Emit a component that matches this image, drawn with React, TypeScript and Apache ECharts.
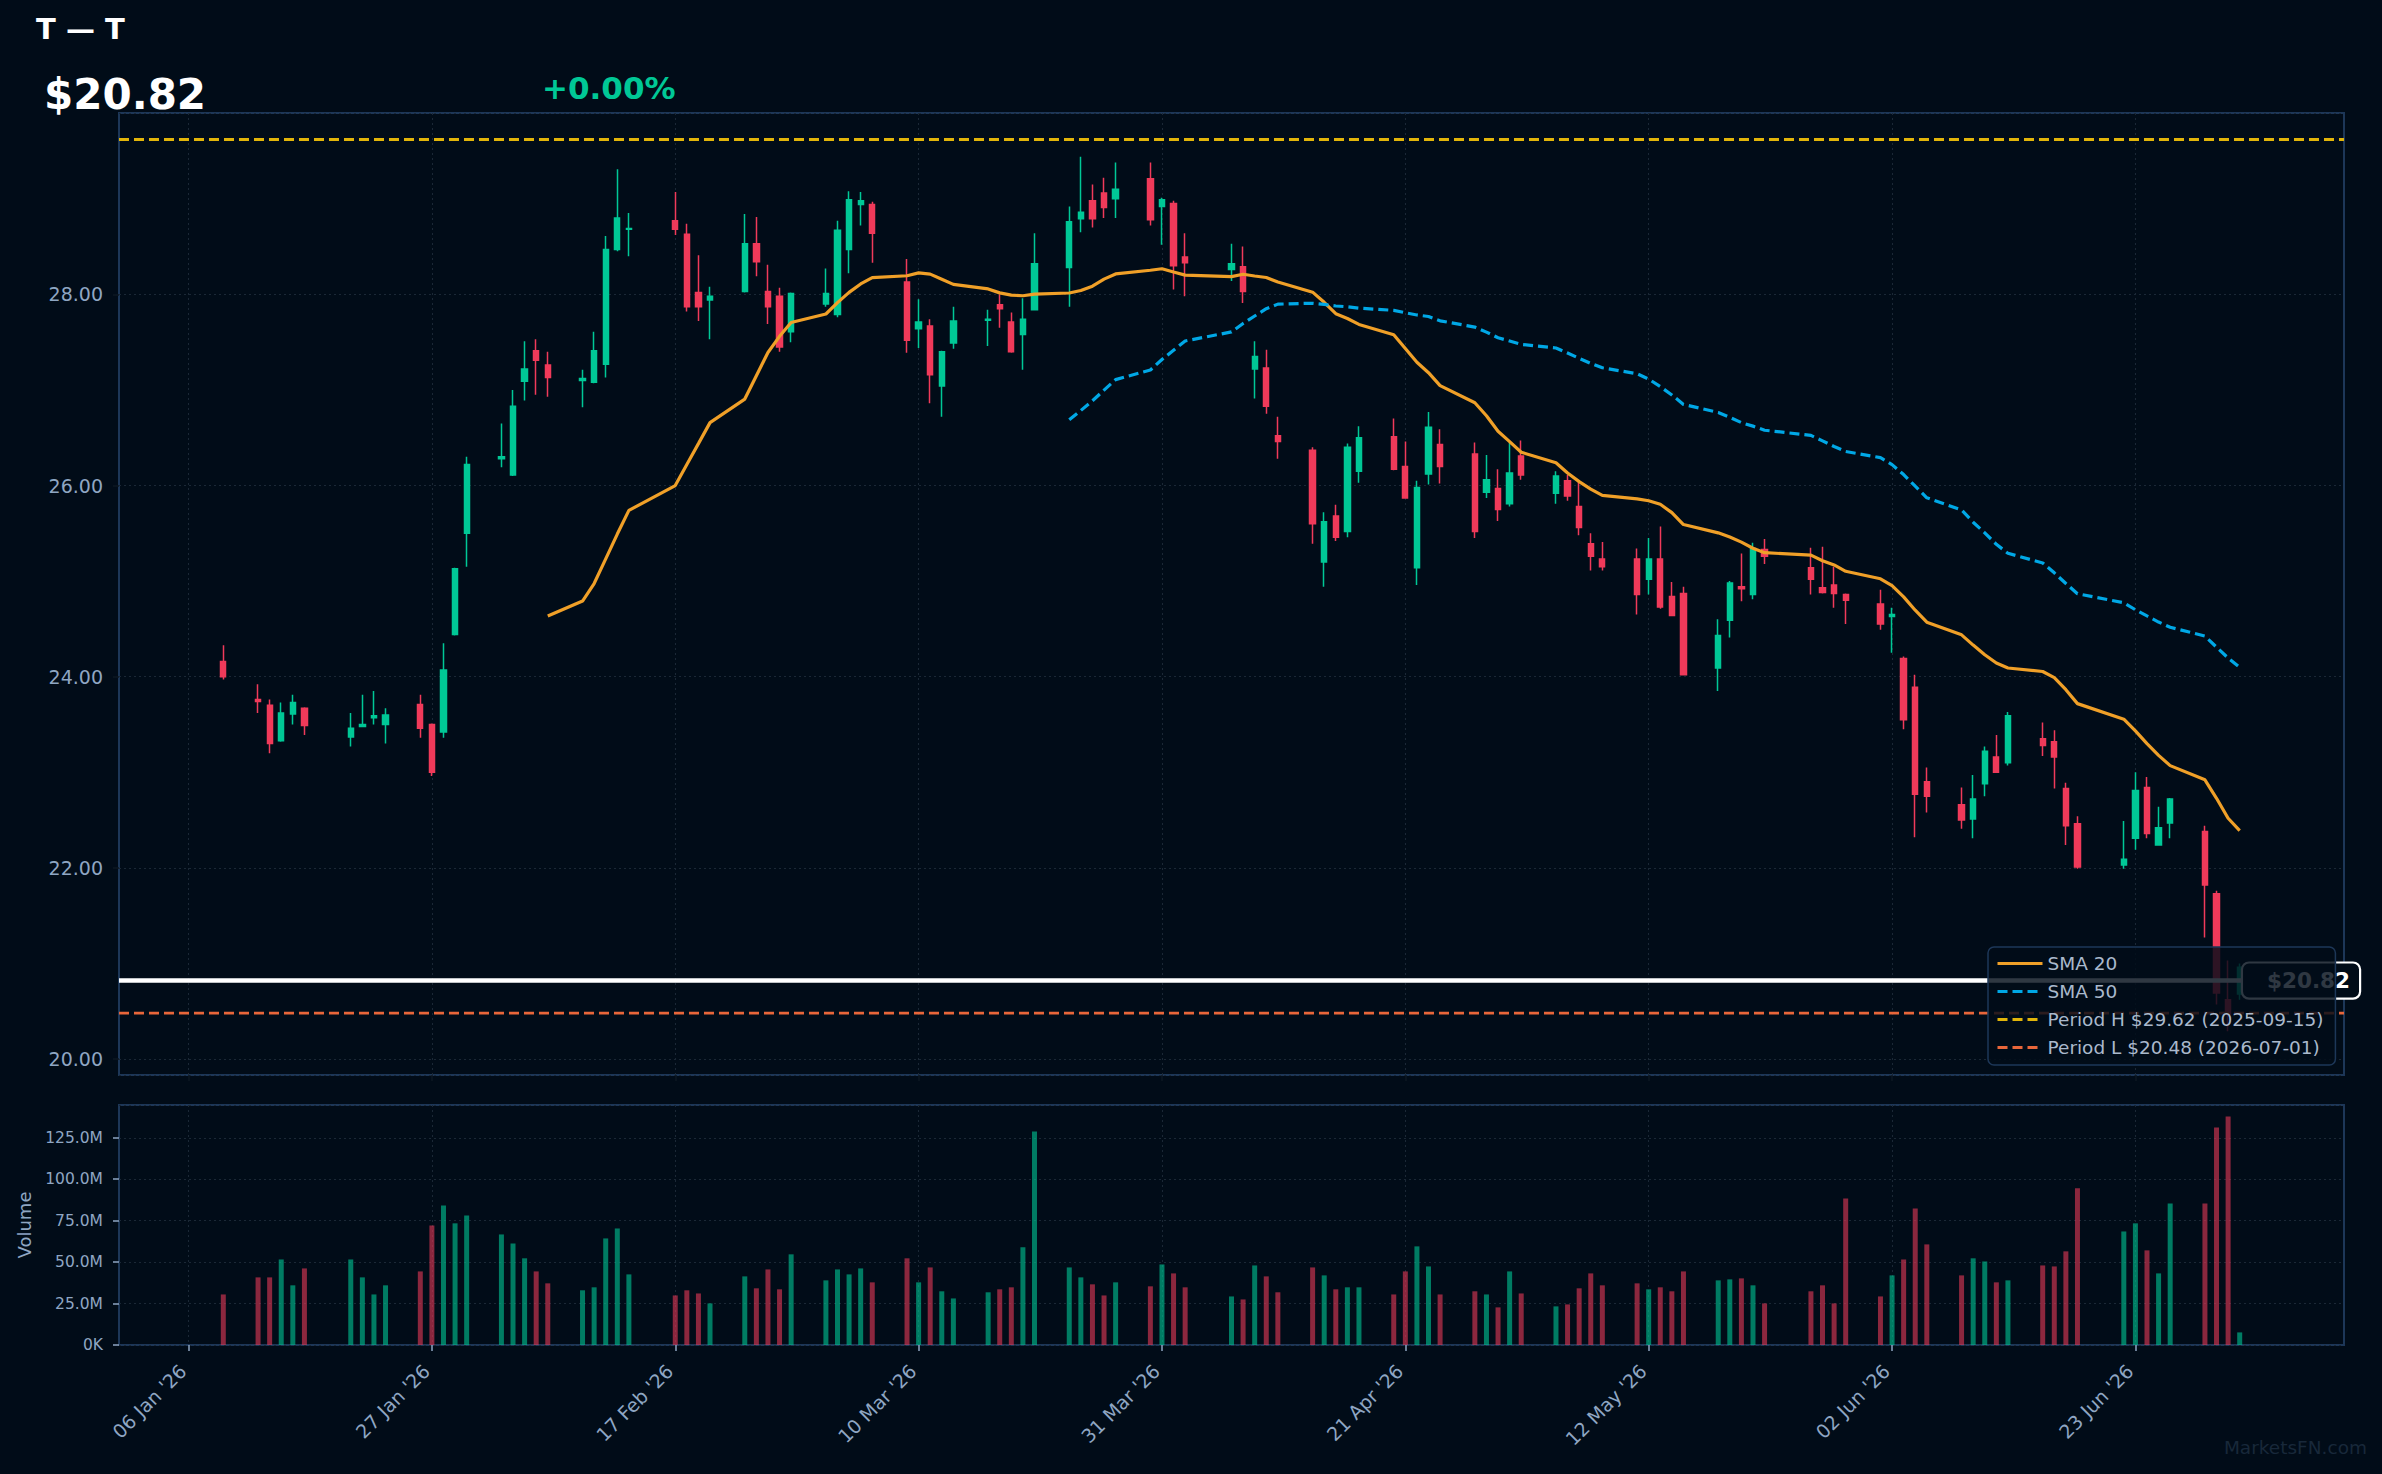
import React, { useEffect, useRef } from 'react';
import * as echarts from 'echarts';

// ---------- header texts ----------
const TITLE_TEXT = 'T — T';
const HEADER_PRICE = '$20.82';
const HEADER_CHANGE = '+0.00%';
const WATERMARK = 'MarketsFN.com';

// ---------- daily data ----------
const tradeDates = [
  '2026-01-09', '2026-01-12', '2026-01-13', '2026-01-14', '2026-01-15', '2026-01-16',
  '2026-01-20', '2026-01-21', '2026-01-22', '2026-01-23',
  '2026-01-26', '2026-01-27', '2026-01-28', '2026-01-29', '2026-01-30',
  '2026-02-02', '2026-02-03', '2026-02-04', '2026-02-05', '2026-02-06',
  '2026-02-09', '2026-02-10', '2026-02-11', '2026-02-12', '2026-02-13',
  '2026-02-17', '2026-02-18', '2026-02-19', '2026-02-20',
  '2026-02-23', '2026-02-24', '2026-02-25', '2026-02-26', '2026-02-27',
  '2026-03-02', '2026-03-03', '2026-03-04', '2026-03-05', '2026-03-06',
  '2026-03-09', '2026-03-10', '2026-03-11', '2026-03-12', '2026-03-13',
  '2026-03-16', '2026-03-17', '2026-03-18', '2026-03-19', '2026-03-20',
  '2026-03-23', '2026-03-24', '2026-03-25', '2026-03-26', '2026-03-27',
  '2026-03-30', '2026-03-31', '2026-04-01', '2026-04-02',
  '2026-04-06', '2026-04-07', '2026-04-08', '2026-04-09', '2026-04-10',
  '2026-04-13', '2026-04-14', '2026-04-15', '2026-04-16', '2026-04-17',
  '2026-04-20', '2026-04-21', '2026-04-22', '2026-04-23', '2026-04-24',
  '2026-04-27', '2026-04-28', '2026-04-29', '2026-04-30', '2026-05-01',
  '2026-05-04', '2026-05-05', '2026-05-06', '2026-05-07', '2026-05-08',
  '2026-05-11', '2026-05-12', '2026-05-13', '2026-05-14', '2026-05-15',
  '2026-05-18', '2026-05-19', '2026-05-20', '2026-05-21', '2026-05-22',
  '2026-05-26', '2026-05-27', '2026-05-28', '2026-05-29',
  '2026-06-01', '2026-06-02', '2026-06-03', '2026-06-04', '2026-06-05',
  '2026-06-08', '2026-06-09', '2026-06-10', '2026-06-11', '2026-06-12',
  '2026-06-15', '2026-06-16', '2026-06-17', '2026-06-18',
  '2026-06-22', '2026-06-23', '2026-06-24', '2026-06-25', '2026-06-26',
  '2026-06-29', '2026-06-30', '2026-07-01', '2026-07-02',
];

const opens = [
  24.16, 23.76, 23.70, 23.33, 23.61, 23.67,
  23.37, 23.48, 23.57, 23.50,
  23.71, 23.50, 23.42, 24.44, 25.50,
  26.28, 26.11, 27.09, 27.41, 27.26,
  27.10, 27.08, 27.27, 28.47, 28.68,
  28.77, 28.63, 28.02, 27.94,
  28.03, 28.53, 28.03, 27.98, 27.61,
  27.90, 27.79, 28.47, 28.94, 28.94,
  28.13, 27.64, 27.67, 27.04, 27.49,
  27.73, 27.89, 27.71, 27.58, 27.84,
  28.28, 28.79, 28.98, 29.06, 29.00,
  29.21, 28.92, 28.95, 28.39,
  28.26, 28.29, 27.22, 27.23, 26.52,
  26.37, 25.20, 25.68, 25.52, 26.15,
  26.51, 26.20, 25.14, 26.12, 26.43,
  26.33, 25.93, 25.97, 25.81, 26.31,
  25.92, 26.05, 25.78, 25.39, 25.23,
  25.23, 25.02, 25.23, 24.84, 24.87,
  24.09, 24.59, 24.94, 24.86, 25.33,
  25.14, 24.93, 24.96, 24.86,
  24.76, 24.63, 24.19, 23.89, 22.90,
  22.66, 22.51, 22.88, 23.16, 23.10,
  23.35, 23.32, 22.83, 22.46,
  22.03, 22.31, 22.84, 22.24, 22.47,
  22.38, 21.73, 20.62, 20.68,
];

const highs = [
  24.33, 23.92, 23.76, 23.73, 23.81, 23.68,
  23.62, 23.81, 23.85, 23.67,
  23.81, 23.51, 24.35, 25.14, 26.30,
  26.65, 27.00, 27.51, 27.53, 27.40,
  27.21, 27.61, 28.61, 29.31, 28.85,
  29.07, 28.74, 28.41, 28.08,
  28.84, 28.81, 28.31, 28.07, 28.02,
  28.27, 28.77, 29.08, 29.07, 28.97,
  28.37, 27.95, 27.74, 27.41, 27.87,
  27.84, 28.00, 27.81, 27.96, 28.64,
  28.92, 29.44, 29.15, 29.22, 29.38,
  29.38, 29.01, 28.98, 28.64,
  28.53, 28.50, 27.51, 27.42, 26.72,
  26.40, 25.72, 25.80, 26.44, 26.62,
  26.70, 26.46, 26.05, 26.77, 26.59,
  26.45, 26.32, 26.17, 26.45, 26.47,
  26.15, 26.11, 26.04, 25.50, 25.41,
  25.34, 25.45, 25.57, 24.99, 24.94,
  24.60, 25.00, 25.29, 25.40, 25.44,
  25.35, 25.36, 25.15, 24.87,
  24.91, 24.72, 24.21, 24.02, 23.05,
  22.84, 22.97, 23.27, 23.39, 23.63,
  23.52, 23.44, 22.89, 22.54,
  22.49, 23.00, 22.95, 22.64, 22.73,
  22.44, 21.76, 21.03, 21.00,
];

const lows = [
  23.97, 23.62, 23.20, 23.32, 23.50, 23.39,
  23.27, 23.47, 23.50, 23.30,
  23.36, 22.96, 23.36, 24.43, 25.15,
  26.19, 26.10, 26.89, 26.95, 26.93,
  26.82, 27.07, 27.13, 28.45, 28.40,
  28.62, 27.82, 27.72, 27.53,
  28.02, 28.19, 27.69, 27.40, 27.50,
  27.87, 27.76, 28.22, 28.72, 28.33,
  27.39, 27.44, 26.86, 26.72, 27.43,
  27.46, 27.65, 27.39, 27.21, 27.84,
  27.87, 28.65, 28.70, 28.80, 28.80,
  28.72, 28.52, 28.05, 27.98,
  28.14, 27.91, 26.91, 26.75, 26.28,
  25.39, 24.94, 25.42, 25.46, 26.03,
  26.16, 25.87, 24.96, 26.01, 26.02,
  25.45, 25.87, 25.63, 25.78, 26.06,
  25.81, 25.84, 25.48, 25.11, 25.11,
  24.65, 24.86, 24.71, 24.64, 24.02,
  23.85, 24.41, 24.79, 24.81, 25.18,
  24.86, 24.87, 24.72, 24.55,
  24.49, 24.25, 23.45, 22.32, 22.58,
  22.41, 22.31, 22.75, 23.00, 23.07,
  23.17, 22.83, 22.24, 21.99,
  21.99, 22.19, 22.31, 22.23, 22.31,
  21.27, 20.57, 20.29, 20.62,
];

const closes = [
  24.00, 23.74, 23.30, 23.62, 23.73, 23.49,
  23.46, 23.50, 23.59, 23.60,
  23.46, 23.00, 24.07, 25.13, 26.22,
  26.30, 26.83, 27.22, 27.31, 27.13,
  27.12, 27.41, 28.47, 28.80, 28.69,
  28.68, 27.87, 27.87, 27.98,
  28.53, 28.34, 27.87, 27.45, 28.01,
  28.01, 28.67, 28.99, 28.98, 28.64,
  27.52, 27.71, 27.16, 27.40, 27.72,
  27.74, 27.85, 27.40, 27.74, 28.32,
  28.76, 28.86, 28.79, 28.91, 29.10,
  28.78, 28.99, 28.30, 28.33,
  28.32, 28.03, 27.35, 26.83, 26.46,
  25.60, 25.62, 25.46, 26.40, 26.50,
  26.17, 25.87, 25.98, 26.61, 26.20,
  25.52, 26.06, 25.75, 26.13, 26.11,
  26.10, 25.89, 25.56, 25.26, 25.15,
  24.86, 25.23, 24.73, 24.64, 24.02,
  24.43, 24.98, 24.92, 25.34, 25.26,
  25.02, 24.88, 24.87, 24.80,
  24.55, 24.65, 23.55, 22.77, 22.75,
  22.50, 22.72, 23.22, 23.00, 23.59,
  23.28, 23.16, 22.44, 22.01,
  22.09, 22.81, 22.36, 22.42, 22.72,
  21.82, 20.69, 20.47, 20.96,
];

// volume in millions of shares
const volumesM = [
  30.5, 40.8, 40.8, 51.6, 36.0, 46.2,
  51.6, 40.8, 30.5, 36.0,
  44.4, 72.1, 84.2, 73.4, 78.2,
  66.7, 61.3, 52.3, 44.4, 37.2,
  33.0, 34.8, 64.3, 70.3, 42.6,
  29.9, 33.0, 31.1, 25.1,
  41.4, 34.2, 45.6, 33.6, 54.7,
  39.0, 45.6, 42.6, 46.2, 37.8,
  52.3, 37.8, 46.8, 32.4, 28.1,
  31.8, 33.6, 34.8, 58.9, 128.8,
  46.8, 40.8, 36.6, 29.9, 37.8,
  35.4, 48.6, 43.2, 34.8,
  29.3, 27.5, 48.0, 41.4, 31.8,
  46.8, 42.0, 33.6, 34.8, 34.8,
  30.5, 44.4, 59.5, 47.4, 30.5,
  32.4, 30.5, 22.7, 44.4, 31.1,
  23.3, 24.5, 34.2, 43.2, 36.0,
  37.2, 33.6, 34.8, 32.4, 44.4,
  39.0, 39.6, 40.2, 36.0, 25.1,
  32.4, 36.0, 25.1, 88.4,
  29.3, 42.0, 51.6, 82.4, 60.7,
  42.0, 52.3, 50.4, 37.8, 39.0,
  48.0, 47.4, 56.5, 94.5,
  68.5, 73.4, 57.1, 43.2, 85.4,
  85.4, 131.2, 137.9, 7.6,
];

const currentPrice = 20.82;
const periodHigh = 29.62;
const periodHighDate = '2025-09-15';
const periodLow = 20.48;
const periodLowDate = '2026-07-01';

const smaWindows = [20, 50];

// x domain (calendar days) and tick spacing
const axisStartDate = '2025-12-31';
const axisEndDate = '2026-07-11';
const firstTickDate = '2026-01-06';
const tickEveryDays = 21;
const volumeTickStep = 25;

// ---------- styles ----------
const FONT = 'DejaVu Sans';
const BG = '#010c18';
const SPINE = '#1d3758';
const LABEL = '#8fa6c3';
const DARK_TICK = '#0c1722';
const GRID_LINE = { color: '#1b2836', width: 1, type: [2, 3] as number[] };
const UP = '#00c896';
const DOWN = '#f03a5a';
const UP_VOL = 'rgba(0,200,150,0.6)';
const DOWN_VOL = 'rgba(240,58,90,0.58)';
const SMA_COLORS = ['#f0a028', '#00a8e6'];
const PH_COLOR = '#e2b50a';
const PL_COLOR = '#e8663a';

const MONTHS = ['Jan', 'Feb', 'Mar', 'Apr', 'May', 'Jun', 'Jul', 'Aug', 'Sep', 'Oct', 'Nov', 'Dec'];
const DAY_MS = 86400000;
const parseDay = (s: string) => {
  const [y, m, d] = s.split('-').map(Number);
  return Date.UTC(y, m - 1, d);
};
const fmtDay = (t: number) => new Date(t).toISOString().slice(0, 10);
const tickLabel = (s: string) => {
  const [y, m, d] = s.split('-');
  return `${d} ${MONTHS[Number(m) - 1]} '${y.slice(2)}`;
};

function buildOption() {
  const days: string[] = [];
  for (let t = parseDay(axisStartDate); t <= parseDay(axisEndDate); t += DAY_MS) days.push(fmtDay(t));
  const dayIndex = new Map(days.map((d, i) => [d, i] as [string, number]));
  const tickOffset = Math.round((parseDay(firstTickDate) - parseDay(axisStartDate)) / DAY_MS);
  const isTick = (i: number) => i >= tickOffset && (i - tickOffset) % tickEveryDays === 0;

  const candleData: any[] = days.map(() => ['-', '-', '-', '-']);
  const volData: any[] = days.map(() => '-');
  tradeDates.forEach((d, k) => {
    const i = dayIndex.get(d)!;
    candleData[i] = [opens[k], closes[k], lows[k], highs[k]];
    volData[i] = { value: volumesM[k], itemStyle: { color: closes[k] >= opens[k] ? UP_VOL : DOWN_VOL } };
  });

  // simple moving averages of the closes (as plotted on the chart)
  const smaSeries = smaWindows.map((n) => {
    const arr: any[] = days.map(() => '-');
    tradeDates.forEach((d, k) => {
      if (k >= n - 1) {
        let s = 0;
        for (let j = k - n + 1; j <= k; j++) s += closes[j];
        arr[dayIndex.get(d)!] = +(s / n).toFixed(4);
      }
    });
    return arr;
  });

  const lo = Math.min(...lows);
  const hi = Math.max(...highs);
  const pad = (hi - lo) * 0.05;
  const volMax = Math.max(...volumesM) * 1.05;

  const phName = `Period H $${periodHigh.toFixed(2)} (${periodHighDate})`;
  const plName = `Period L $${periodLow.toFixed(2)} (${periodLowDate})`;

  const left = 119;
  const width = 2225;

  return {
    animation: false,
    backgroundColor: BG,
    textStyle: { fontFamily: FONT },
    grid: [
      { left, top: 113, width, height: 962, show: true, borderColor: SPINE, borderWidth: 2, backgroundColor: 'transparent' },
      { left, top: 1105, width, height: 240, show: true, borderColor: SPINE, borderWidth: 2, backgroundColor: 'transparent' },
    ],
    xAxis: [
      {
        type: 'category', gridIndex: 0, data: days, boundaryGap: false,
        axisLine: { show: false },
        axisLabel: { show: false },
        axisTick: { show: true, interval: (i: number) => isTick(i), length: 6, lineStyle: { color: DARK_TICK, width: 1.5 } },
        splitLine: { show: true, interval: (i: number) => isTick(i), lineStyle: GRID_LINE },
      },
      {
        type: 'category', gridIndex: 1, data: days, boundaryGap: false,
        axisLine: { show: false },
        axisLabel: {
          show: true, interval: (i: number) => isTick(i), rotate: 45, margin: 17,
          padding: [0, 8, 0, 0],
          formatter: (v: string) => tickLabel(v), color: LABEL, fontSize: 19, fontFamily: FONT,
        },
        axisTick: { show: true, interval: (i: number) => isTick(i), length: 6, lineStyle: { color: LABEL, width: 1.5 } },
        splitLine: { show: true, interval: (i: number) => isTick(i), lineStyle: GRID_LINE },
      },
    ],
    yAxis: [
      {
        type: 'value', gridIndex: 0, min: lo - pad, max: hi + pad, splitNumber: 5,
        axisLine: { show: false },
        axisTick: { show: true, length: 6, lineStyle: { color: DARK_TICK, width: 1.5 } },
        axisLabel: {
          color: LABEL, fontSize: 19, fontFamily: FONT, margin: 16,
          formatter: (v: number) => v.toFixed(2), showMinLabel: false, showMaxLabel: false,
        },
        splitLine: { show: true, lineStyle: GRID_LINE },
      },
      {
        type: 'value', gridIndex: 1, min: 0, max: volMax, interval: volumeTickStep,
        name: 'Volume', nameLocation: 'middle', nameRotate: 90, nameGap: 86,
        nameTextStyle: { color: LABEL, fontSize: 18, fontFamily: FONT },
        axisLine: { show: false },
        axisTick: { show: true, length: 6, lineStyle: { color: LABEL, width: 1.5 } },
        axisLabel: {
          color: LABEL, fontSize: 15.5, fontFamily: FONT, margin: 16, showMaxLabel: false,
          formatter: (v: number) => (v === 0 ? '0K' : `${v.toFixed(1)}M`),
        },
        splitLine: { show: true, lineStyle: GRID_LINE },
      },
    ],
    legend: {
      data: [
        { name: 'SMA 20', lineStyle: { width: 3 } },
        { name: 'SMA 50', lineStyle: { width: 3, type: [10, 5] } },
        { name: phName, lineStyle: { width: 3, type: [10, 5] } },
        { name: plName, lineStyle: { width: 3, type: [10, 5] } },
      ],
      orient: 'vertical', left: 1988, top: 947,
      itemWidth: 45, itemHeight: 14, itemGap: 9,
      padding: [7, 12, 8, 8],
      backgroundColor: 'rgba(1,12,24,0.82)', borderColor: SPINE, borderWidth: 1.5, borderRadius: 6,
      itemStyle: { color: 'transparent', borderColor: 'transparent', borderWidth: 0 },
      textStyle: { color: '#aab9cc', fontSize: 18.5, fontFamily: FONT },
      selectedMode: false,
      z: 10,
    },
    series: [
      {
        type: 'candlestick', name: 'Price', xAxisIndex: 0, yAxisIndex: 0, data: candleData,
        barWidth: 5.8, silent: true,
        itemStyle: { color: UP, color0: DOWN, borderColor: UP, borderColor0: DOWN, borderWidth: 1.5 },
      },
      {
        type: 'line', name: 'SMA 20', xAxisIndex: 0, yAxisIndex: 0, data: smaSeries[0],
        symbol: 'none', connectNulls: true, silent: true,
        itemStyle: { color: SMA_COLORS[0] }, lineStyle: { color: SMA_COLORS[0], width: 3.2 },
      },
      {
        type: 'line', name: 'SMA 50', xAxisIndex: 0, yAxisIndex: 0, data: smaSeries[1],
        symbol: 'none', connectNulls: true, silent: true,
        itemStyle: { color: SMA_COLORS[1] }, lineStyle: { color: SMA_COLORS[1], width: 3.2, type: [10, 5] },
      },
      {
        type: 'line', name: phName, xAxisIndex: 0, yAxisIndex: 0, data: days.map(() => periodHigh),
        symbol: 'none', silent: true,
        itemStyle: { color: PH_COLOR }, lineStyle: { color: PH_COLOR, width: 2.8, type: [10, 5] },
      },
      {
        type: 'line', name: plName, xAxisIndex: 0, yAxisIndex: 0, data: days.map(() => periodLow),
        symbol: 'none', silent: true,
        itemStyle: { color: PL_COLOR }, lineStyle: { color: PL_COLOR, width: 2.8, type: [10, 5] },
      },
      {
        type: 'line', name: 'Last', xAxisIndex: 0, yAxisIndex: 0, data: days.map(() => currentPrice),
        symbol: 'none', silent: true,
        itemStyle: { color: '#ffffff' }, lineStyle: { color: '#ffffff', width: 4.5 },
        endLabel: {
          show: true, formatter: () => `$${currentPrice.toFixed(2)}`,
          align: 'right', distance: 15,
          color: '#ffffff', fontWeight: 'bold', fontSize: 21.5, fontFamily: FONT,
          backgroundColor: BG, borderColor: '#ffffff', borderWidth: 2.2, borderRadius: 6,
          padding: [6, 9, 6, 24],
        },
      },
      {
        type: 'bar', name: 'Volume', xAxisIndex: 1, yAxisIndex: 1, data: volData,
        barWidth: 5, silent: true,
      },
    ],
    graphic: [
      {
        type: 'text', x: 36, y: 28.5, silent: true,
        style: { text: TITLE_TEXT, fill: '#ffffff', fontSize: 29, fontWeight: 'bold', fontFamily: FONT, verticalAlign: 'middle', textVerticalAlign: 'middle' },
      },
      {
        type: 'text', x: 44, y: 94, silent: true,
        style: { text: HEADER_PRICE, fill: '#ffffff', fontSize: 42, fontWeight: 'bold', fontFamily: FONT, verticalAlign: 'middle', textVerticalAlign: 'middle' },
      },
      {
        type: 'text', x: 542, y: 88, silent: true,
        style: { text: HEADER_CHANGE, fill: UP, fontSize: 31, fontWeight: 'bold', fontFamily: FONT, verticalAlign: 'middle', textVerticalAlign: 'middle' },
      },
      {
        type: 'text', x: 2367, y: 1447, silent: true,
        style: { text: WATERMARK, fill: '#18283a', fontSize: 18.5, fontFamily: FONT, align: 'right', textAlign: 'right', verticalAlign: 'middle', textVerticalAlign: 'middle' },
      },
    ],
  };
}

export default function App() {
  const ref = useRef<HTMLDivElement>(null);
  useEffect(() => {
    document.body.style.margin = '0';
    document.body.style.background = BG;
    if (!ref.current) return;
    const chart = echarts.init(ref.current, undefined, { renderer: 'svg' });
    chart.setOption(buildOption() as any);
    return () => chart.dispose();
  }, []);
  return (
    <div
      ref={ref}
      style={{ position: 'fixed', left: 0, top: 0, width: 2382, height: 1474, background: BG }}
    />
  );
}
